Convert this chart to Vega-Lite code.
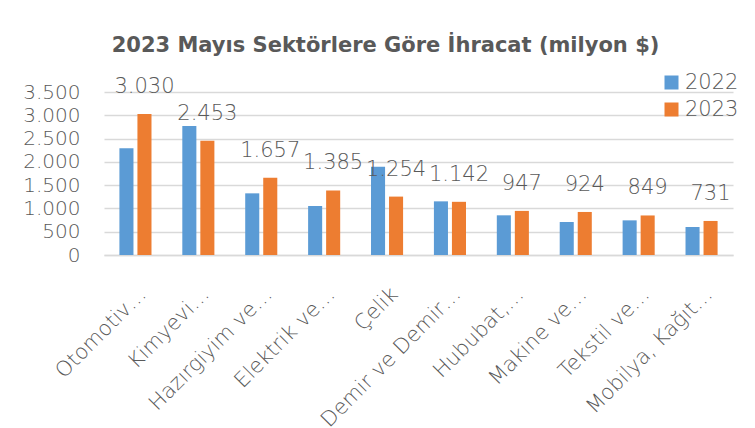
{
  "$schema": "https://vega.github.io/schema/vega-lite/v6.json",
  "autosize": "none",
  "width": 629,
  "height": 163,
  "padding": {"left": 104, "top": 92, "right": 22, "bottom": 173},
  "background": "white",
  "title": {
    "text": "2023 Mayıs Sektörlere Göre İhracat (milyon $)",
    "font": "DejaVu Sans",
    "fontSize": 21,
    "fontWeight": "bold",
    "color": "#595959",
    "anchor": "middle",
    "dx": -33,
    "dy": 41,
    "baseline": "alphabetic",
    "offset": 40
  },
  "config": {
    "locale": {"number": {"decimal": ",", "thousands": ".", "grouping": [3], "currency": ["", "₺"]}},
    "view": {"stroke": null},
    "font": "DejaVu Sans"
  },
  "data": {
    "values": [
      {"sektor": "Otomotiv…", "yil": "2022", "deger": 2290},
      {"sektor": "Otomotiv…", "yil": "2023", "deger": 3030},
      {"sektor": "Kimyevi…", "yil": "2022", "deger": 2770},
      {"sektor": "Kimyevi…", "yil": "2023", "deger": 2453},
      {"sektor": "Hazırgiyim ve…", "yil": "2022", "deger": 1324},
      {"sektor": "Hazırgiyim ve…", "yil": "2023", "deger": 1657},
      {"sektor": "Elektrik ve…", "yil": "2022", "deger": 1052},
      {"sektor": "Elektrik ve…", "yil": "2023", "deger": 1385},
      {"sektor": "Çelik", "yil": "2022", "deger": 1896},
      {"sektor": "Çelik", "yil": "2023", "deger": 1254},
      {"sektor": "Demir ve Demir…", "yil": "2022", "deger": 1152},
      {"sektor": "Demir ve Demir…", "yil": "2023", "deger": 1142},
      {"sektor": "Hububat,…", "yil": "2022", "deger": 852},
      {"sektor": "Hububat,…", "yil": "2023", "deger": 947},
      {"sektor": "Makine ve…", "yil": "2022", "deger": 708},
      {"sektor": "Makine ve…", "yil": "2023", "deger": 924},
      {"sektor": "Tekstil ve…", "yil": "2022", "deger": 744},
      {"sektor": "Tekstil ve…", "yil": "2023", "deger": 849},
      {"sektor": "Mobilya, Kağıt…", "yil": "2022", "deger": 601},
      {"sektor": "Mobilya, Kağıt…", "yil": "2023", "deger": 731}
    ]
  },
  "encoding": {
    "x": {
      "field": "sektor",
      "type": "nominal",
      "sort": null,
      "scale": {"paddingInner": 0.49, "paddingOuter": 0.245},
      "axis": {
        "title": null,
        "labelAngle": -45,
        "labelFontSize": 21,
        "labelFontWeight": 200,
        "labelColor": "#595959",
        "labelPadding": 28,
        "labelLimit": 400,
        "ticks": false,
        "domainColor": "#d9d9d9",
        "domainWidth": 1.5,
        "grid": false
      }
    },
    "xOffset": {"field": "yil", "type": "nominal", "scale": {"paddingInner": 0.22}},
    "y": {
      "field": "deger",
      "type": "quantitative",
      "scale": {"domain": [0, 3500], "nice": false},
      "axis": {
        "title": null,
        "values": [0, 500, 1000, 1500, 2000, 2500, 3000, 3500],
        "format": ",.0f",
        "labelFontSize": 20,
        "labelFontWeight": 200,
        "labelColor": "#595959",
        "labelPadding": 24,
        "ticks": false,
        "domain": false,
        "gridColor": "#d9d9d9",
        "gridWidth": 1.5
      }
    }
  },
  "layer": [
    {
      "mark": {"type": "bar"},
      "encoding": {
        "color": {
          "field": "yil",
          "type": "nominal",
          "scale": {"domain": ["2022", "2023"], "range": ["#5B9BD5", "#ED7D31"]},
          "legend": {
            "title": null,
            "orient": "none",
            "legendX": 557,
            "legendY": -20,
            "padding": 0,
            "symbolType": "square",
            "symbolSize": 196,
            "symbolStrokeWidth": 0,
            "labelFont": "DejaVu Sans",
            "labelFontSize": 21,
            "labelFontWeight": 200,
            "labelColor": "#595959",
            "labelOffset": 3,
            "rowPadding": 5
          }
        }
      }
    },
    {
      "transform": [{"filter": "datum.yil == '2023'"}],
      "mark": {"type": "text", "baseline": "alphabetic", "dy": -21, "fontSize": 21, "fontWeight": 200, "color": "#595959"},
      "encoding": {
        "text": {"field": "deger", "type": "quantitative", "format": ",.0f"}
      }
    }
  ]
}
